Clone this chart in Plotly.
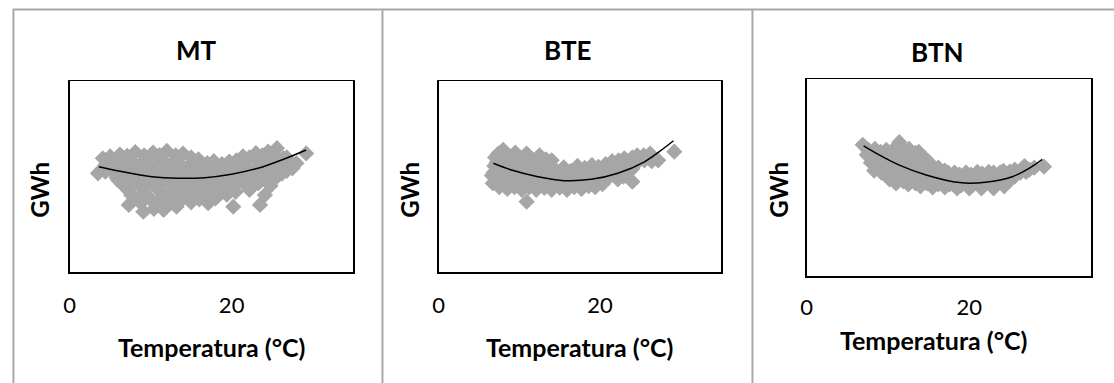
import plotly.graph_objects as go

W, H = 1114, 383

titles = ["MT", "BTE", "BTN"]
y_label = "GWh"
x_label = "Temperatura (°C)"
x_tickvals = [0, 20]
x_ticktext = ["0", "20"]

# ---- MT ----
mt_x = [6.2, 8.1, 10.3, 12.0, 14.0, 15.9, 17.8, 19.7, 21.4, 23.0, 24.5, 25.6,
        4.1, 5.3, 7.2, 9.1, 11.2, 13.0, 15.1, 17.0, 19.1, 21.0, 23.2, 25.0, 26.4,
        3.5, 5.0, 6.9, 8.8, 10.7, 12.6, 14.5, 16.4, 18.3, 20.2, 22.1, 24.0, 25.8, 27.5,
        5.8, 7.7, 9.6, 11.5, 13.4, 15.3, 17.2, 19.1, 21.0, 22.9, 24.6, 26.2,
        6.5, 8.4, 10.3, 12.2, 14.1, 16.0, 17.9, 19.8, 21.7, 23.3,
        7.3, 9.2, 11.1, 13.0, 14.9, 16.8, 18.7, 20.5, 22.2,
        8.0, 10.0, 12.0, 14.0, 16.0, 18.0,
        7.3, 9.1, 10.4, 11.6, 13.2, 17.1, 20.2, 23.5, 24.1, 24.8, 29.2, 28.0,
        5.0, 7.1, 9.2, 11.1, 13.1, 15.0, 17.0, 18.8, 20.6, 22.2, 23.8, 25.3, 26.8,
        4.4, 6.1, 8.0, 9.9, 11.9, 13.8, 15.8, 17.7, 19.6, 21.6, 23.5, 25.3, 27.0,
        4.4, 6.3, 8.2, 10.1, 12.0, 13.9, 15.8, 17.7, 19.7, 21.5, 23.4, 25.2, 26.8,
        6.0, 7.5, 9.4, 11.3, 13.2, 15.1, 17.0, 18.9, 20.8, 22.6, 24.0, 25.5,
        7.0, 8.9, 10.8, 12.7, 14.6, 16.5, 18.3, 20.2, 22.0,
        7.6, 9.6, 11.5, 13.5, 15.4, 17.4, 19.4,
        8.8, 10.8, 12.5, 15.0]
mt_y = [61.5, 62.8, 62.5, 63.4, 62.0, 59.0, 58.0, 57.8, 60.5, 62.2, 63.0, 64.8,
        59.5, 57.5, 58.5, 58.0, 59.0, 58.5, 57.0, 55.5, 55.0, 56.5, 58.5, 59.0, 59.5,
        51.7, 54.0, 54.5, 54.0, 54.5, 54.0, 53.5, 52.5, 52.0, 53.0, 54.0, 55.0, 55.5, 54.3,
        49.5, 50.0, 50.5, 50.0, 49.5, 49.0, 48.5, 49.0, 50.0, 51.0, 51.5, 51.5,
        46.0, 46.5, 46.0, 46.5, 46.0, 45.5, 45.0, 45.5, 46.0, 46.5,
        42.5, 42.0, 42.5, 42.0, 42.5, 42.0, 41.5, 42.0, 43.0,
        38.5, 38.0, 39.0, 38.5, 38.0, 38.5,
        35.1, 31.6, 33.0, 32.5, 34.2, 36.0, 34.2, 35.1, 40.3, 45.2, 62.1, 57.0,
        60.5, 60.8, 61.0, 61.2, 61.0, 60.0, 57.0, 56.5, 58.5, 60.0, 61.0, 61.5, 60.0,
        56.0, 56.3, 56.5, 56.0, 56.8, 56.0, 55.0, 54.0, 53.8, 55.5, 56.5, 57.0, 56.5,
        52.5, 52.0, 52.3, 52.0, 52.5, 51.8, 51.0, 50.5, 51.0, 52.0, 53.0, 53.5, 53.0,
        48.0, 48.0, 48.3, 48.0, 48.5, 47.5, 47.0, 47.2, 48.0, 48.5, 49.0, 49.5,
        44.0, 44.3, 44.0, 44.5, 44.0, 43.8, 43.5, 44.0, 44.8,
        40.3, 40.0, 40.5, 40.2, 40.0, 40.0, 40.5,
        36.0, 35.8, 36.3, 36.5]
mt_trend_x = [3.6, 6.05, 10.16, 13.4, 16.7, 19.98, 23.25, 26.5, 29.2]
mt_trend_y = [55.1, 52.9, 49.9, 49.1, 49.4, 51.2, 54.3, 59.2, 63.9]

# ---- BTE ----
bte_x = [7.4, 8.0, 9.5, 10.9, 12.5, 14.0,
         7.2, 8.4, 10.2, 12.0, 13.7, 21.5, 23.0, 24.6, 26.2, 25.5, 27.2,
         7.4, 9.4, 11.2, 13.0, 14.7, 16.4, 18.1, 19.8, 21.4, 23.0, 24.4,
         6.6, 7.6, 9.2, 11.0, 12.8, 14.6, 16.4, 18.2, 20.0, 21.8, 23.0,
         6.7, 7.8, 9.6, 11.4, 13.2, 15.0, 16.8, 18.6, 20.4, 22.2, 24.0,
         8.5, 10.3, 12.1, 14.0, 15.9, 17.7, 19.4,
         10.9, 29.2,
         7.0, 8.8, 10.6, 12.2, 13.3, 22.3, 24.0, 25.4,
         6.9, 8.5, 10.3, 12.1, 13.8, 15.5, 17.2, 19.0, 20.7, 22.3, 23.8, 26.4,
         6.8, 8.5, 10.3, 12.1, 13.9, 15.6, 17.3, 19.0, 20.8, 22.6, 24.0,
         7.3, 8.9, 10.6, 12.3, 14.0, 15.8, 17.6, 19.4, 21.1, 22.9,
         7.5, 9.4, 11.2, 13.1, 15.0, 16.8, 18.6, 20.3]
bte_y = [62.0, 64.0, 62.5, 62.0, 61.0, 58.5,
         57.5, 58.5, 58.0, 57.5, 56.5, 58.0, 59.5, 61.0, 62.0, 58.5, 58.5,
         54.0, 54.0, 54.0, 53.0, 52.5, 53.0, 54.5, 55.0, 55.5, 55.5, 56.5,
         50.5, 50.5, 50.0, 50.0, 49.5, 49.0, 49.5, 50.5, 51.0, 51.5, 52.0,
         46.5, 46.5, 46.0, 46.0, 45.5, 45.5, 46.0, 46.5, 47.5, 48.5, 47.3,
         43.5, 43.0, 43.0, 43.0, 43.0, 43.5, 44.5,
         36.8, 63.0,
         60.0, 60.5, 60.0, 59.5, 59.0, 58.5, 60.0, 61.0,
         55.5, 56.2, 56.0, 55.5, 54.5, 54.8, 55.5, 56.0, 56.5, 57.0, 58.0, 58.0,
         52.0, 52.0, 52.0, 51.5, 51.0, 51.0, 51.8, 52.5, 53.0, 53.8, 54.0,
         48.5, 48.0, 48.0, 47.5, 47.0, 47.2, 48.0, 48.5, 49.5, 50.0,
         44.5, 44.5, 44.3, 44.0, 44.2, 44.5, 45.0, 46.0]
bte_trend_x = [6.78, 9.03, 12.3, 15.6, 18.9, 22.2, 25.5, 27.9, 29.1]
bte_trend_y = [56.9, 53.4, 49.9, 47.8, 48.5, 51.7, 57.7, 64.8, 68.7]

# ---- BTN ----
btn_x = [6.9, 8.4, 9.8, 11.0, 11.4, 12.6, 13.8,
         7.4, 8.9, 10.3, 11.7, 13.1, 14.5,
         7.9, 8.3, 9.6, 11.0, 12.4, 13.8, 15.0, 16.2,
         9.2, 10.4, 11.8, 13.2, 14.6, 16.0, 17.4, 18.8, 20.2, 21.6, 23.0, 24.2, 25.6, 26.8, 28.0, 29.2,
         10.2, 11.6, 13.0, 14.4, 15.8, 17.2, 18.6, 20.0, 21.4, 22.8, 24.2, 25.6, 27.0,
         11.0, 12.5, 14.0, 15.5, 17.0, 18.5, 20.0, 21.5, 23.0, 24.3, 25.0,
         7.6, 9.1, 10.5, 12.0, 13.4,
         8.2, 9.6, 11.0, 12.4, 13.8, 15.0,
         8.8, 10.1, 11.5, 12.9, 14.3, 15.7, 17.0, 18.2, 19.6, 21.0, 22.4, 23.8, 25.0, 26.3, 27.4,
         9.8, 11.1, 12.5, 13.9, 15.3, 16.7, 18.1, 19.5, 20.9, 22.3, 23.7, 25.0, 26.3,
         11.9, 13.4, 14.8, 16.2, 17.6, 19.0, 20.4, 21.8, 23.2, 24.5]
btn_y = [66.6, 64.5, 64.0, 65.5, 67.9, 64.5, 63.0,
         61.5, 61.0, 61.0, 61.5, 61.0, 60.0,
         57.5, 53.5, 57.0, 57.0, 57.5, 57.0, 56.3, 55.0,
         52.5, 53.5, 53.0, 53.5, 53.0, 52.5, 52.5, 51.5, 51.5, 52.0, 52.5, 53.3, 54.0, 55.8, 55.0, 55.5,
         49.0, 49.5, 49.0, 49.0, 48.5, 48.5, 48.0, 48.0, 48.0, 48.5, 49.0, 50.5, 52.8,
         47.0, 46.5, 45.5, 45.0, 45.0, 44.5, 44.5, 44.5, 44.5, 45.5, 48.5,
         64.0, 63.0, 63.0, 63.5, 62.5,
         59.0, 59.0, 59.0, 59.5, 59.0, 58.0,
         55.5, 55.0, 55.0, 55.5, 55.0, 54.5, 53.5, 52.5, 52.5, 52.8, 52.8, 52.5, 53.0, 53.5, 54.0,
         51.0, 51.0, 51.0, 51.0, 50.5, 50.5, 50.0, 50.0, 50.0, 50.0, 50.5, 51.5, 52.5,
         48.0, 47.0, 47.0, 46.5, 46.5, 46.0, 46.0, 46.0, 46.5, 47.0]
btn_trend_x = [7.01, 8.97, 11.4, 14.7, 18.8, 22.0, 25.3, 27.7, 29.0]
btn_trend_y = [66.1, 61.4, 56.3, 51.3, 47.4, 47.6, 50.4, 55.5, 59.2]

panels = [
    (mt_x, mt_y, mt_trend_x, mt_trend_y),
    (bte_x, bte_y, bte_trend_x, bte_trend_y),
    (btn_x, btn_y, btn_trend_x, btn_trend_y),
]

# plot-area boxes in pixels (left, right, top, bottom)
boxes = [(64, 349, 81, 272), (435, 719, 81, 272), (805, 1091, 79, 276)]
title_pos = [(192, 50), (565, 50), (937, 52)]
ylab_pos = [(33, 190), (405, 190), (776, 190)]
xlab_pos = [(207, 347), (577, 347), (933, 340)]
tick_standoff = [13, 13, 11]

FONT = "Lato"
GRAY = "#A6A6A6"

fig = go.Figure()
layout = dict(
    width=W, height=H, margin=dict(l=0, r=0, t=0, b=0),
    paper_bgcolor="white", plot_bgcolor="white", showlegend=False,
    font=dict(family=FONT, color="black"),
)
annotations = []
for i, ((px, py, tx, ty), (l, r, t, b)) in enumerate(zip(panels, boxes)):
    n = "" if i == 0 else str(i + 1)
    fig.add_trace(go.Scatter(x=px, y=py, mode="markers", xaxis="x" + n, yaxis="y" + n,
                             marker=dict(symbol="diamond", size=12.5, color=GRAY, line=dict(width=0)),
                             hoverinfo="skip"))
    fig.add_trace(go.Scatter(x=tx, y=ty, mode="lines", xaxis="x" + n, yaxis="y" + n,
                             line=dict(color="black", width=1.5, shape="spline"),
                             hoverinfo="skip"))
    layout["xaxis" + n] = dict(
        domain=[l / W, r / W], anchor="y" + n, range=[0, 35],
        tickvals=x_tickvals, ticktext=x_ticktext, ticks="", ticklabelstandoff=tick_standoff[i],
        showgrid=False, zeroline=False, showline=True, mirror=True,
        linecolor="black", linewidth=1.5, tickfont=dict(size=22, family=FONT),
    )
    layout["yaxis" + n] = dict(
        domain=[1 - b / H, 1 - t / H], anchor="x" + n, range=[0, 100],
        showticklabels=False, ticks="", showgrid=False, zeroline=False,
        showline=True, mirror=True, linecolor="black", linewidth=1.5,
    )
    annotations.append(dict(text="<b>%s</b>" % titles[i], x=title_pos[i][0] / W, y=1 - title_pos[i][1] / H,
                            xref="paper", yref="paper", showarrow=False, xanchor="center", yanchor="middle",
                            font=dict(size=26, family=FONT)))
    annotations.append(dict(text="<b>%s</b>" % y_label, x=ylab_pos[i][0] / W, y=1 - ylab_pos[i][1] / H,
                            xref="paper", yref="paper", showarrow=False, xanchor="center", yanchor="middle",
                            textangle=-90, font=dict(size=24, family=FONT)))
    annotations.append(dict(text="<b>%s</b>" % x_label, x=xlab_pos[i][0] / W, y=1 - xlab_pos[i][1] / H,
                            xref="paper", yref="paper", showarrow=False, xanchor="center", yanchor="middle",
                            font=dict(size=25, family=FONT)))

shapes = []
line_style = dict(color="#A8A8A8", width=2)
shapes.append(dict(type="line", xref="paper", yref="paper", x0=7 / W, x1=1, y0=1 - 9.5 / H, y1=1 - 9.5 / H, line=line_style))
for xs in (7.5, 378.5, 750.5):
    shapes.append(dict(type="line", xref="paper", yref="paper", x0=xs / W, x1=xs / W, y0=0, y1=1 - 9 / H, line=line_style))

layout["annotations"] = annotations
layout["shapes"] = shapes
fig.update_layout(**layout)
fig.write_html("out.html", config={"displayModeBar": False, "staticPlot": True},
               post_script="document.body.style.margin='0';document.body.style.overflow='hidden';")
